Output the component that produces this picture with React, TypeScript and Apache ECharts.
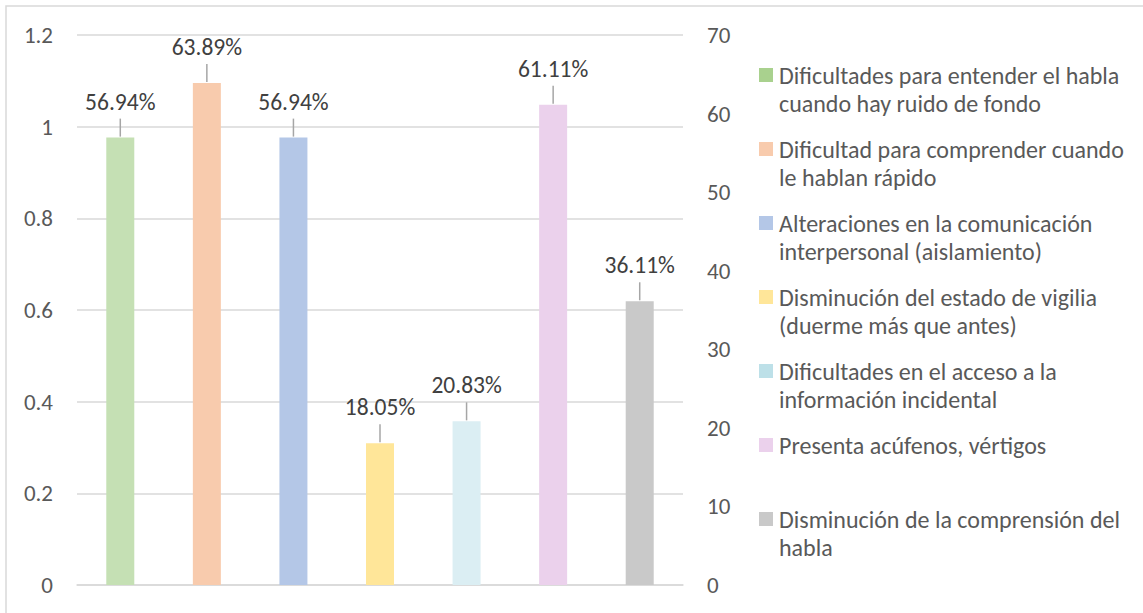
import { useEffect, useRef } from "react";
import * as echarts from "echarts";

// Symptoms reported, with the share of respondents for each one
const categories = [
  "Dificultades para entender el habla cuando hay ruido de fondo",
  "Dificultad para comprender cuando le hablan rápido",
  "Alteraciones en la comunicación interpersonal (aislamiento)",
  "Disminución del estado de vigilia (duerme más que antes)",
  "Dificultades en el acceso a la información incidental",
  "Presenta acúfenos, vértigos",
  "Disminución de la comprensión del habla",
];

// Same labels, broken into the lines shown in the legend
const legendLabels = [
  "Dificultades para entender el habla\ncuando hay ruido de fondo",
  "Dificultad para comprender cuando\nle hablan rápido",
  "Alteraciones en la comunicación\ninterpersonal (aislamiento)",
  "Disminución del estado de vigilia\n(duerme más que antes)",
  "Dificultades en el acceso a la\ninformación incidental",
  "Presenta acúfenos, vértigos",
  "Disminución de la comprensión del\nhabla",
];

const percentages = [56.94, 63.89, 56.94, 18.05, 20.83, 61.11, 36.11];

const barColors = ["#C5E0B4", "#F8CBAD", "#B4C7E7", "#FFE699", "#DBEEF3", "#EBD1EC", "#C9C9C9"];
const legendColors = ["#A9D18E", "#F8CBAD", "#B4C7E7", "#FFE699", "#BDE0E8", "#EBD1EC", "#C9C9C9"];

// Axis ranges
const leftAxisMax = 1.2;
const leftAxisStep = 0.2;
const rightAxisMax = 70;
const rightAxisStep = 10;

const FONT = "Carlito, Lato, 'Noto Sans', sans-serif";
const TEXT_COLOR = "#595959";
const GRID_COLOR = "#D9D9D9";
const AXIS_SIZE = 23;
const LABEL_SIZE = 23.5;
const LEGEND_SIZE = 24;

export default function App() {
  const ref = useRef<HTMLDivElement>(null);

  useEffect(() => {
    if (!ref.current) return;
    const chart = echarts.init(ref.current, undefined, { renderer: "svg" });

    const legendGraphics: any[] = [];
    legendLabels.forEach((label, i) => {
      const cy = 75 + 74 * i;
      legendGraphics.push({
        type: "rect",
        shape: { x: 759, y: cy - 7, width: 14, height: 14 },
        style: { fill: legendColors[i] },
        silent: true,
      });
      legendGraphics.push({
        type: "text",
        x: 779,
        y: cy - 14,
        style: {
          text: label,
          fontFamily: FONT,
          fontSize: LEGEND_SIZE,
          lineHeight: 28,
          fill: TEXT_COLOR,
          align: "left",
          verticalAlign: "top",
        },
        silent: true,
      });
    });

    chart.setOption({
      animation: false,
      backgroundColor: "#FFFFFF",
      textStyle: { fontFamily: FONT },
      grid: { left: 77, right: 460, top: 35, bottom: 28, containLabel: false },
      xAxis: {
        type: "category",
        data: categories,
        axisLine: { show: true, lineStyle: { color: GRID_COLOR, width: 1.5 } },
        axisTick: { show: false },
        axisLabel: { show: false },
        splitLine: { show: false },
      },
      yAxis: [
        {
          type: "value",
          min: 0,
          max: leftAxisMax,
          interval: leftAxisStep,
          axisLine: { show: false },
          axisTick: { show: false },
          axisLabel: {
            color: TEXT_COLOR,
            fontSize: AXIS_SIZE,
            fontFamily: FONT,
            margin: 24,
          },
          splitLine: { lineStyle: { color: GRID_COLOR, width: 1.5 } },
        },
        {
          type: "value",
          min: 0,
          max: rightAxisMax,
          interval: rightAxisStep,
          position: "right",
          axisLine: { show: false },
          axisTick: { show: false },
          axisLabel: {
            color: TEXT_COLOR,
            fontSize: AXIS_SIZE,
            fontFamily: FONT,
            margin: 24,
          },
          splitLine: { show: false },
        },
      ],
      series: [
        {
          type: "bar",
          yAxisIndex: 1,
          barWidth: 28,
          data: percentages.map((v, i) => ({ value: v, itemStyle: { color: barColors[i] } })),
        },
        {
          // Value labels sitting above each bar, joined to it by a short leader line
          type: "custom",
          yAxisIndex: 1,
          clip: false,
          silent: true,
          data: percentages.map((v, i) => [i, v]),
          encode: { x: 0, y: 1 },
          renderItem: (_params: any, api: any) => {
            const idx = api.value(0);
            const v = api.value(1);
            const pt = api.coord([idx, v]);
            const x = pt[0];
            const y = pt[1];
            return {
              type: "group",
              children: [
                {
                  type: "line",
                  shape: { x1: x, y1: y - 1, x2: x, y2: y - 19 },
                  style: { stroke: "#A6A6A6", lineWidth: 1.5 },
                },
                {
                  type: "text",
                  x,
                  y: y - 36,
                  style: {
                    text: v.toFixed(2) + "%",
                    fontFamily: FONT,
                    fontSize: LABEL_SIZE,
                    fill: "#404040",
                    align: "center",
                    verticalAlign: "middle",
                  },
                },
              ],
            };
          },
        },
      ],
      graphic: [
        {
          type: "rect",
          shape: { x: 6, y: 6, width: 1300, height: 800 },
          style: { fill: "none", stroke: GRID_COLOR, lineWidth: 1.5 },
          silent: true,
        },
        ...legendGraphics,
      ],
    });

    return () => chart.dispose();
  }, []);

  return (
    <div
      ref={ref}
      style={{ position: "absolute", left: 0, top: 0, width: 1143, height: 613, background: "#FFFFFF" }}
    />
  );
}
